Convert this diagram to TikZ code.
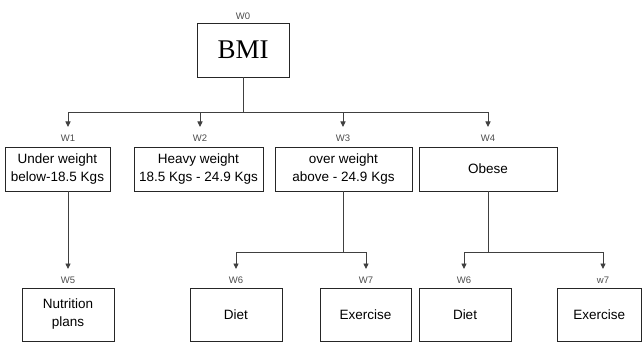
\documentclass[tikz,border=0pt]{standalone}
\usepackage{fontspec}
\setmainfont{Liberation Sans}
\newfontfamily\timesfont{Liberation Serif}
\usetikzlibrary{arrows.meta}
\begin{document}
\begin{tikzpicture}[x=1pt,y=-1pt,
  box/.style={draw=black!85, line width=0.8pt, align=center, inner sep=0pt,
    font=\fontsize{13.5}{18}\selectfont, minimum height=44pt},
  leaf/.style={box, minimum height=53pt},
  lab/.style={font=\fontsize{9.5}{10}\selectfont, text=black!70, inner sep=0pt, anchor=north},
  ln/.style={draw=black!75, line width=0.9pt},
  arr/.style={ln, -{Triangle[width=5pt,length=5.5pt]}, shorten >=8pt}]
\useasboundingbox (0,0) rectangle (642,342);
% top
\node[box, minimum width=92pt, minimum height=54pt, font=\timesfont\fontsize{27}{30}\selectfont] (bmi) at (243,50) {BMI};
\node[lab] (l0) at (243,12.5) {W0};
% level 1
\node[box, minimum width=105pt] (b1) at (57.5,169) {Under weight\\below-18.5 Kgs};
\node[box, minimum width=129pt] (b2) at (198.5,169) {Heavy weight\\18.5 Kgs - 24.9 Kgs};
\node[box, minimum width=137pt] (b3) at (343.5,169) {over weight\\above - 24.9 Kgs};
\node[box, minimum width=138pt] (b4) at (488,169) {Obese};
\node[lab] (l1) at (68,135) {W1};
\node[lab] (l2) at (200,135) {W2};
\node[lab] (l3) at (343,135) {W3};
\node[lab] (l4) at (488,135) {W4};
% level 2
\node[leaf, minimum width=92pt] (b5) at (68,314.5) {Nutrition\\plans};
\node[leaf, minimum width=92pt] (b6) at (236,314.5) {Diet};
\node[leaf, minimum width=91pt] (b7) at (365.5,314.5) {Exercise};
\node[leaf, minimum width=92pt] (b8) at (465,314.5) {Diet};
\node[leaf, minimum width=84.5pt] (b9) at (599.25,314.5) {Exercise};
\node[lab] (l5) at (68,277) {W5};
\node[lab] (l6) at (236,277) {W6};
\node[lab] (l7) at (366,277) {W7};
\node[lab] (l8) at (464,277) {W6};
\node[lab] (l9) at (603,277) {w7};
% connectors
\foreach \t in {l1,l2,l3,l4}
  \draw[arr] (bmi.south) -- ++(0,35) -| (\t.north);
\draw[arr] (l1 |- b1.south) -- (l5.north);
\foreach \t in {l6,l7}
  \draw[arr] (l3 |- b3.south) -- ++(0,61) -| (\t.north);
\foreach \t in {l8,l9}
  \draw[arr] (l4 |- b4.south) -- ++(0,61) -| (\t.north);
\end{tikzpicture}
\end{document}
